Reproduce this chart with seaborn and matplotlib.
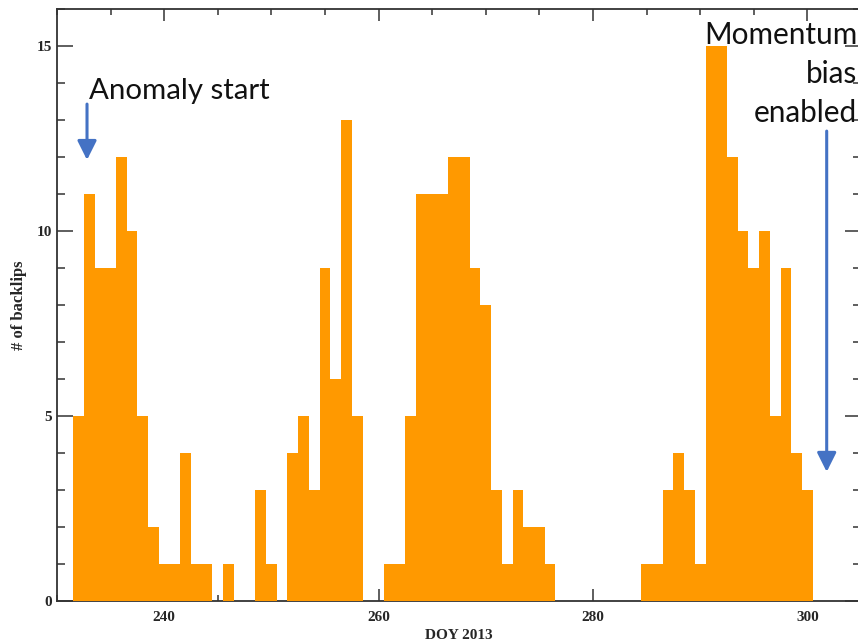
import matplotlib
matplotlib.use("Agg")
import matplotlib.pyplot as plt
from matplotlib.ticker import MultipleLocator
import seaborn as sns
import pandas as pd

# day of year 2013 and number of backlips per day
days = list(range(232, 301))
counts = [5, 11, 9, 9, 12, 10, 5, 2, 1, 1,
          4, 1, 1, 0, 1, 0, 0, 3, 1, 0,
          4, 5, 3, 9, 6, 13, 5, 0, 0, 1,
          1, 5, 11, 11, 11, 12, 12, 9, 8, 3,
          1, 3, 2, 2, 1, 0, 0, 0, 0, 0,
          0, 0, 0, 1, 1, 3, 4, 3, 1, 15,
          15, 12, 10, 9, 10, 5, 9, 4, 3]

anomaly_text = "Anomaly start"
anomaly_day = 232.8
momentum_lines = ["Momentum", "bias", "enabled"]
momentum_day = 301.8

df = pd.DataFrame({"doy": days, "n": counts})

sns.set_style("ticks")
plt.rcParams['font.family'] = ['Liberation Serif', 'DejaVu Serif']

fig = plt.figure(figsize=(8.58, 6.41), dpi=100)
ax = fig.add_axes([57 / 858, 40 / 641, 804 / 858, 592 / 641])

sns.histplot(data=df, x="doy", weights="n", discrete=True, color="#FF9900",
             alpha=1, linewidth=0, ax=ax, zorder=3)

ax.set_xlim(230, 305)
ax.set_ylim(0, 16)
ax.xaxis.set_major_locator(MultipleLocator(20))
ax.xaxis.set_minor_locator(MultipleLocator(5))
ax.yaxis.set_major_locator(MultipleLocator(5))
ax.yaxis.set_minor_locator(MultipleLocator(1))

ax.tick_params(axis='both', which='both', direction='in', top=True, right=True,
               color='#333333', width=1.1)
ax.tick_params(axis='x', which='major', length=8.5, pad=7, labelsize=11)
ax.tick_params(axis='x', which='minor', length=4.3)
ax.tick_params(axis='y', which='major', length=11.5, pad=3.6, labelsize=11)
ax.tick_params(axis='y', which='minor', length=5.8)
for lab in ax.get_xticklabels() + ax.get_yticklabels():
    lab.set_fontweight('bold')

for sp in ax.spines.values():
    sp.set_color('#333333')
    sp.set_linewidth(1.3)

ax.set_xlabel("DOY 2013", fontsize=11, fontweight='bold', labelpad=3.5)
ax.set_ylabel("# of backlips", fontsize=12, fontweight='bold', labelpad=7)

# annotations
blue = "#4472C4"
arrow = dict(arrowstyle='-|>', color=blue, lw=2.2, mutation_scale=29,
             shrinkA=0, shrinkB=0)
ax.annotate("", xy=(anomaly_day, 11.92), xytext=(anomaly_day, 13.43),
            arrowprops=arrow, zorder=5)
ax.text(232.99, 13.57, anomaly_text, family=['Lato', 'DejaVu Sans'],
        fontsize=21.2, color='#111111', ha='left', va='baseline', zorder=5)

ax.annotate("", xy=(momentum_day, 3.49), xytext=(momentum_day, 12.7),
            arrowprops=arrow, zorder=5)
for i, line in enumerate(momentum_lines):
    ax.text(304.63, 15.05 - 1.05 * i, line, family=['Lato', 'DejaVu Sans'],
            fontsize=21.4, color='#111111', ha='right', va='baseline', zorder=5)

fig.savefig("out.png", dpi=100)
